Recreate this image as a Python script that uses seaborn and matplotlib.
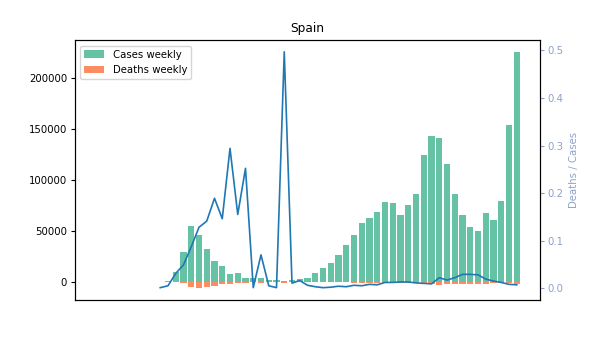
import matplotlib
matplotlib.use("Agg")
import matplotlib.pyplot as plt
import seaborn as sns
import numpy as np

# Weekly data for Spain (week index from the first reported week)
cases = [200, 1300, 10000, 29900, 55000, 46200, 32500, 21000, 15900, 8100,
         9400, 4500, 4500, 4400, 1800, 1800, 1200, 1800, 3300, 4500,
         9200, 14100, 19000, 26700, 36500, 46200, 58000, 62900, 68700, 78500,
         77500, 65800, 75600, 86300, 124400, 143000, 141000, 116000, 86300, 65800,
         54000, 50100, 67700, 61200, 79500, 153700, 225000]
deaths = [0, 10, 200, 700, 4400, 5200, 4500, 3500, 1800, 1700,
          1100, 900, 50, 300, 10, 2, 700, 20, 50, 30,
          30, 20, 40, 110, 110, 280, 290, 500, 480, 940,
          930, 860, 980, 950, 1240, 1290, 2600, 1700, 1600, 1600,
          1500, 1400, 1300, 950, 950, 1200, 1500]
ratio = [0.001, 0.005, 0.031, 0.049, 0.087, 0.128, 0.141, 0.189, 0.146, 0.294,
         0.155, 0.252, 0.001, 0.070, 0.005, 0.001, 0.497, 0.0105, 0.016, 0.006,
         0.003, 0.001, 0.002, 0.004, 0.003, 0.006, 0.005, 0.008, 0.007, 0.012,
         0.012, 0.013, 0.013, 0.011, 0.010, 0.009, 0.022, 0.017, 0.022, 0.029,
         0.029, 0.028, 0.019, 0.015, 0.012, 0.008, 0.007]
week_no = list(range(len(cases)))

green = "#66c2a5"
orange = "#fc8d62"
axis2_color = "#8da0cb"

plt.rcParams["font.size"] = 7.3
plt.rcParams["ytick.major.size"] = 2.6
plt.rcParams["ytick.major.pad"] = 3.0

fig, ax = plt.subplots(figsize=(6.0, 3.37), dpi=100)
fig.subplots_adjust(left=0.125, right=0.9, bottom=0.11, top=0.88)

sns.barplot(x=week_no, y=cases, color=green, saturation=1, errorbar=None,
            width=0.8, ax=ax, label="Cases weekly")
sns.barplot(x=week_no, y=[-d for d in deaths], color=orange, saturation=1,
            errorbar=None, width=0.8, ax=ax, label="Deaths weekly")
ax.set_xlim(-11, 49)
ax.set_ylim(-17300, 236500)
ax.set_xticks([])
ax.set_xlabel("")
ax.set_ylabel("")
ax.set_title("Spain")
ax.legend(loc="upper left")

ax2 = ax.twinx()
sns.lineplot(x=week_no, y=ratio, ax=ax2, color="#1f77b4", linewidth=1.2)
ax2.set_ylim(-0.0248, 0.521)
ax2.set_xlim(-11, 49)
ax2.set_ylabel("Deaths / Cases", color=axis2_color)
ax2.tick_params(axis="y", colors=axis2_color)
ax2.set_xticks([])

fig.savefig("out.png", dpi=100)
